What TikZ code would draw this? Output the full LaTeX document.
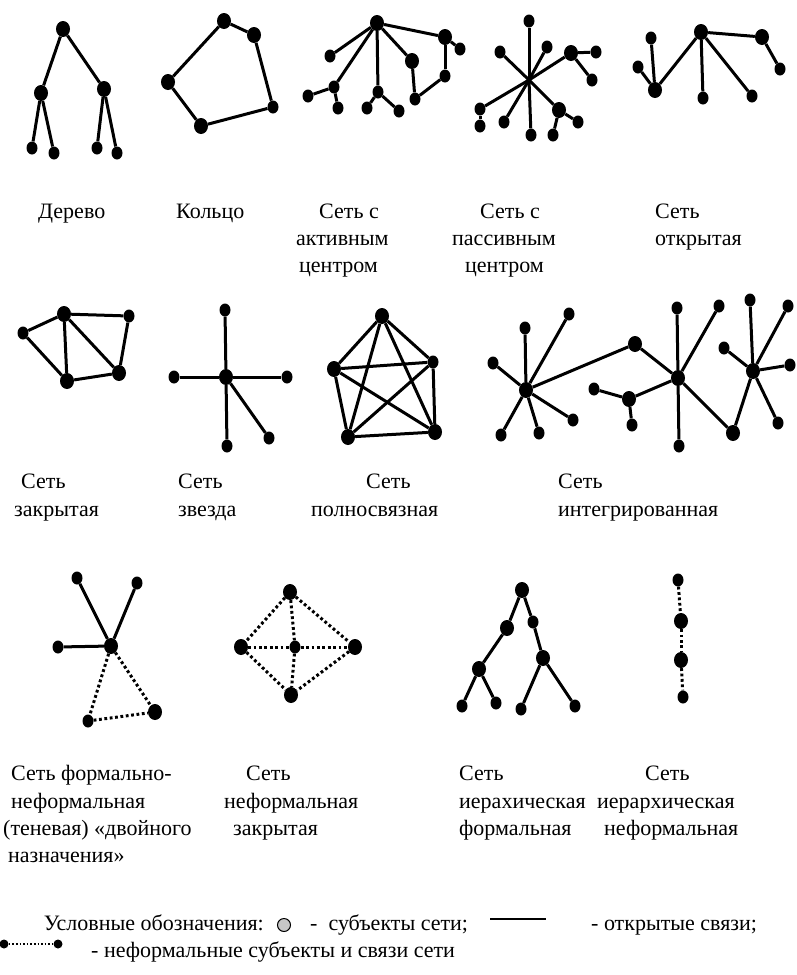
\documentclass[tikz,border=0pt]{standalone}
\usepackage{fontspec}
\setmainfont{Liberation Serif}
\usetikzlibrary{shapes.geometric}
\begin{document}
\begin{tikzpicture}[x=1pt,y=-1pt,
  nd/.style={ellipse,fill=black,draw=none,minimum width=11pt,minimum height=13pt,inner sep=0pt},
  bg/.style={nd,minimum width=14pt,minimum height=16pt},
  ln/.style={line width=3pt},
  dt/.style={line width=3pt,dash pattern=on 2.8pt off 2.6pt},
  lbl/.style={anchor=base west,inner sep=0pt,font=\fontsize{22}{26}\selectfont},
  lgd/.style={anchor=base west,inner sep=0pt,font=\fontsize{22}{26}\selectfont}]
\useasboundingbox (0,0) rectangle (796,975);
% ---------- Tree
\node[bg] (t1) at (63,29) {};
\node[bg] (t2) at (41,93) {};
\node[bg] (t3) at (104,89) {};
\node[nd] (t4) at (32,148) {};
\node[nd] (t5) at (54,153) {};
\node[nd] (t6) at (97,148) {};
\node[nd] (t7) at (117,153) {};
\foreach \a/\b in {t1/t2,t1/t3,t2/t4,t2/t5,t3/t6,t3/t7} \draw[ln] (\a) -- (\b);
% ---------- Ring
\node[bg] (r1) at (224,21) {};
\node[bg] (r2) at (254,35) {};
\node[nd] (r3) at (273,107) {};
\node[bg] (r4) at (201,126) {};
\node[bg] (r5) at (168,82) {};
\foreach \a/\b in {r1/r2,r2/r3,r3/r4,r4/r5,r5/r1} \draw[ln] (\a) -- (\b);
% ---------- Active centre
\node[bg] (a0) at (377,23) {};
\node[nd] (a1) at (330,56) {};
\node[nd] (a2) at (334,87) {};
\node[nd] (a3) at (308,96) {};
\node[nd] (a4) at (338,108) {};
\node[nd] (a5) at (378,92) {};
\node[nd] (a6) at (367,108) {};
\node[nd] (a7) at (399,111) {};
\node[bg] (a8) at (412,61) {};
\node[nd] (a9) at (415,99) {};
\node[nd] (a10) at (445,76) {};
\node[bg] (a11) at (445,37) {};
\node[nd] (a12) at (460,49) {};
\foreach \a/\b in {a0/a1,a0/a2,a2/a3,a2/a4,a0/a5,a5/a6,a5/a7,a0/a8,a8/a9,a9/a10,a10/a11,a11/a0,a11/a12} \draw[ln] (\a) -- (\b);
% ---------- Passive centre
\coordinate (p0) at (529,80);
\node[nd] (p1) at (529,21) {};
\node[nd] (p2) at (500,52) {};
\node[nd] (p3) at (480,109) {};
\node[nd] (p4) at (480,126) {};
\node[nd] (p5) at (504,122) {};
\node[nd] (p6) at (531,135) {};
\node[nd] (p7) at (547,47) {};
\node[bg] (p8) at (571,53) {};
\node[nd] (p9) at (596,52) {};
\node[nd] (p10) at (592,80) {};
\node[bg] (p11) at (559,110) {};
\node[nd] (p12) at (578,122) {};
\node[nd] (p13) at (553,135) {};
\foreach \a/\b in {p1/p0,p0/p6,p2/p0,p0/p11,p3/p0,p0/p8,p5/p0,p0/p7,p3/p4,p8/p9,p8/p10,p11/p12,p11/p13} \draw[ln] (\a) -- (\b);
% ---------- Open
\node[bg] (o0) at (701,32) {};
\node[nd] (o1) at (651,38) {};
\node[nd] (o2) at (638,67) {};
\node[bg] (o3) at (655,90) {};
\node[nd] (o4) at (703,98) {};
\node[nd] (o5) at (752,96) {};
\node[bg] (o6) at (762,37) {};
\node[nd] (o7) at (780,69) {};
\foreach \a/\b in {o1/o3,o2/o3,o3/o0,o0/o4,o0/o5,o0/o6,o6/o7} \draw[ln] (\a) -- (\b);
% ---------- Closed
\node[nd] (c1) at (23,333) {};
\node[bg] (c2) at (64,314) {};
\node[nd] (c3) at (129,316) {};
\node[bg] (c4) at (67,381) {};
\node[bg] (c5) at (119,373) {};
\foreach \a/\b in {c1/c2,c1/c4,c2/c3,c2/c4,c2/c5,c3/c5,c4/c5} \draw[ln] (\a) -- (\b);
% ---------- Star
\node[bg] (s0) at (226,377) {};
\node[nd] (s1) at (225,310) {};
\node[nd] (s2) at (174,377) {};
\node[nd] (s3) at (287,377) {};
\node[nd] (s4) at (227,446) {};
\node[nd] (s5) at (269,438) {};
\foreach \b in {s1,s2,s3,s4,s5} \draw[ln] (s0) -- (\b);
% ---------- Full
\node[bg] (f1) at (382,316) {};
\node[bg] (f2) at (334,369) {};
\node[nd] (f3) at (433,362) {};
\node[bg] (f4) at (348,437) {};
\node[bg] (f5) at (435,432) {};
\foreach \a/\b in {f1/f2,f1/f3,f1/f4,f1/f5,f2/f3,f2/f4,f2/f5,f3/f4,f3/f5,f4/f5} \draw[ln] (\a) -- (\b);
% ---------- Integrated
\node[bg] (iA) at (526,390) {};
\node[nd] (ia1) at (525,328) {};
\node[nd] (ia2) at (569,314) {};
\node[nd] (ia3) at (493,363) {};
\node[nd] (ia4) at (573,420) {};
\node[nd] (ia5) at (501,435) {};
\node[nd] (ia6) at (539,433) {};
\node[bg] (ib) at (635,344) {};
\node[bg] (iB) at (678,378) {};
\node[nd] (ib1) at (677,308) {};
\node[nd] (ib2) at (719,306) {};
\node[nd] (ib3) at (679,446) {};
\node[bg] (ib4) at (733,433) {};
\node[bg] (ib5) at (629,399) {};
\node[nd] (ib6) at (594,389) {};
\node[nd] (ib7) at (632,425) {};
\node[bg] (iC) at (753,371) {};
\node[nd] (ic1) at (750,300) {};
\node[nd] (ic2) at (788,306) {};
\node[nd] (ic3) at (724,348) {};
\node[nd] (ic4) at (790,365) {};
\node[nd] (ic5) at (778,423) {};
\foreach \a/\b in {iA/ia1,iA/ia2,iA/ia3,iA/ia4,iA/ia5,iA/ia6,iA/ib,ib/iB,iB/ib1,iB/ib2,iB/ib3,iB/ib4,iB/ib5,ib5/ib6,ib5/ib7,iC/ic1,iC/ic2,iC/ic3,iC/ic4,iC/ic5,iC/ib4} \draw[ln] (\a) -- (\b);
% ---------- Formal-informal
\node[bg] (h0) at (111,646) {};
\node[nd] (h1) at (77,578) {};
\node[nd] (h2) at (137,583) {};
\node[nd] (h3) at (58,647) {};
\node[nd] (h4) at (88,721) {};
\node[bg] (h5) at (155,712) {};
\foreach \b in {h1,h2,h3} \draw[ln] (h0) -- (\b);
\foreach \a/\b in {h0/h4,h0/h5,h4/h5} \draw[dt] (\a) -- (\b);
% ---------- Informal closed
\node[bg] (q1) at (290,592) {};
\node[bg] (q2) at (241,647) {};
\node[nd] (q3) at (295,647) {};
\node[bg] (q4) at (355,647) {};
\node[bg] (q5) at (291,695) {};
\foreach \a/\b in {q1/q2,q1/q3,q1/q4,q2/q3,q3/q4,q2/q5,q3/q5,q4/q5} \draw[dt] (\a) -- (\b);
% ---------- Hierarchical formal
\node[bg] (e1) at (522,590) {};
\node[bg] (e2) at (507,628) {};
\node[nd] (e3) at (533,622) {};
\node[bg] (e4) at (479,669) {};
\node[bg] (e5) at (543,658) {};
\node[nd] (e6) at (462,706) {};
\node[nd] (e7) at (496,703) {};
\node[nd] (e8) at (521,709) {};
\node[nd] (e9) at (575,706) {};
\foreach \a/\b in {e1/e2,e1/e3,e2/e4,e3/e5,e4/e6,e4/e7,e5/e8,e5/e9} \draw[ln] (\a) -- (\b);
% ---------- Hierarchical informal
\node[nd] (v1) at (678,580) {};
\node[bg] (v2) at (681,621) {};
\node[bg] (v3) at (681,660) {};
\node[nd] (v4) at (683,697) {};
\foreach \a/\b in {v1/v2,v2/v3,v3/v4} \draw[dt] (\a) -- (\b);
% ---------- Labels row 1
\node[lbl] (L1) at (38,218) {Дерево};
\node[lbl] (L2) at (176,218) {Кольцо};
\node[lbl] (L3a) at (319,218) {Сеть с};
\node[lbl] (L3b) at (296,245) {активным};
\node[lbl] (L3c) at (299,272) {центром};
\node[lbl] (L4a) at (480,218) {Сеть с};
\node[lbl] (L4b) at (452,245) {пассивным};
\node[lbl] (L4c) at (465,272) {центром};
\node[lbl] (L5a) at (655,218) {Сеть};
\node[lbl] (L5b) at (655,245) {открытая};
% ---------- Labels row 2
\node[lbl] (M1a) at (21,488) {Сеть};
\node[lbl] (M1b) at (14,516) {закрытая};
\node[lbl] (M2a) at (178,488) {Сеть};
\node[lbl] (M2b) at (178,516) {звезда};
\node[lbl] (M3a) at (366,488) {Сеть};
\node[lbl] (M3b) at (311,516) {полносвязная};
\node[lbl] (M4a) at (558,488) {Сеть};
\node[lbl] (M4b) at (558,516) {интегрированная};
% ---------- Labels row 3
\node[lbl] (N1a) at (11,780) {Сеть формально-};
\node[lbl] (N1b) at (11,808) {неформальная};
\node[lbl] (N1c) at (3,835) {(теневая) «двойного};
\node[lbl] (N1d) at (8,862) {назначения»};
\node[lbl] (N2a) at (246,780) {Сеть};
\node[lbl] (N2b) at (224,808) {неформальная};
\node[lbl] (N2c) at (233,835) {закрытая};
\node[lbl] (N3a) at (459,780) {Сеть};
\node[lbl] (N3b) at (459,808) {иерахическая};
\node[lbl] (N3c) at (459,835) {формальная};
\node[lbl] (N4a) at (645,780) {Сеть};
\node[lbl] (N4b) at (597,808) {иерархическая};
\node[lbl] (N4c) at (604,835) {неформальная};
% ---------- Legend
\node[lgd,anchor=base east] (G1) at (264,930) {Условные обозначения:};
\node[circle,draw=black,fill=gray!45,line width=1pt,minimum size=13pt,inner sep=0pt] (G2) at (284,925) {};
\node[lgd] (G3) at (310,930) {-\ \ субъекты сети;};
\coordinate (G4a) at (490,919);
\coordinate (G4b) at (546,919);
\draw[line width=2pt] (G4a) -- (G4b);
\node[lgd] (G5) at (591,930) {- открытые связи;};
\node[circle,fill=black,minimum size=9pt,inner sep=0pt] (G6) at (4,944) {};
\node[circle,fill=black,minimum size=9pt,inner sep=0pt] (G7) at (58,944) {};
\draw[line width=1.6pt,dash pattern=on 1.6pt off 2pt] (G6) -- (G7);
\node[lgd] (G8) at (91,957) {- неформальные субъекты и связи сети};
\end{tikzpicture}
\end{document}
